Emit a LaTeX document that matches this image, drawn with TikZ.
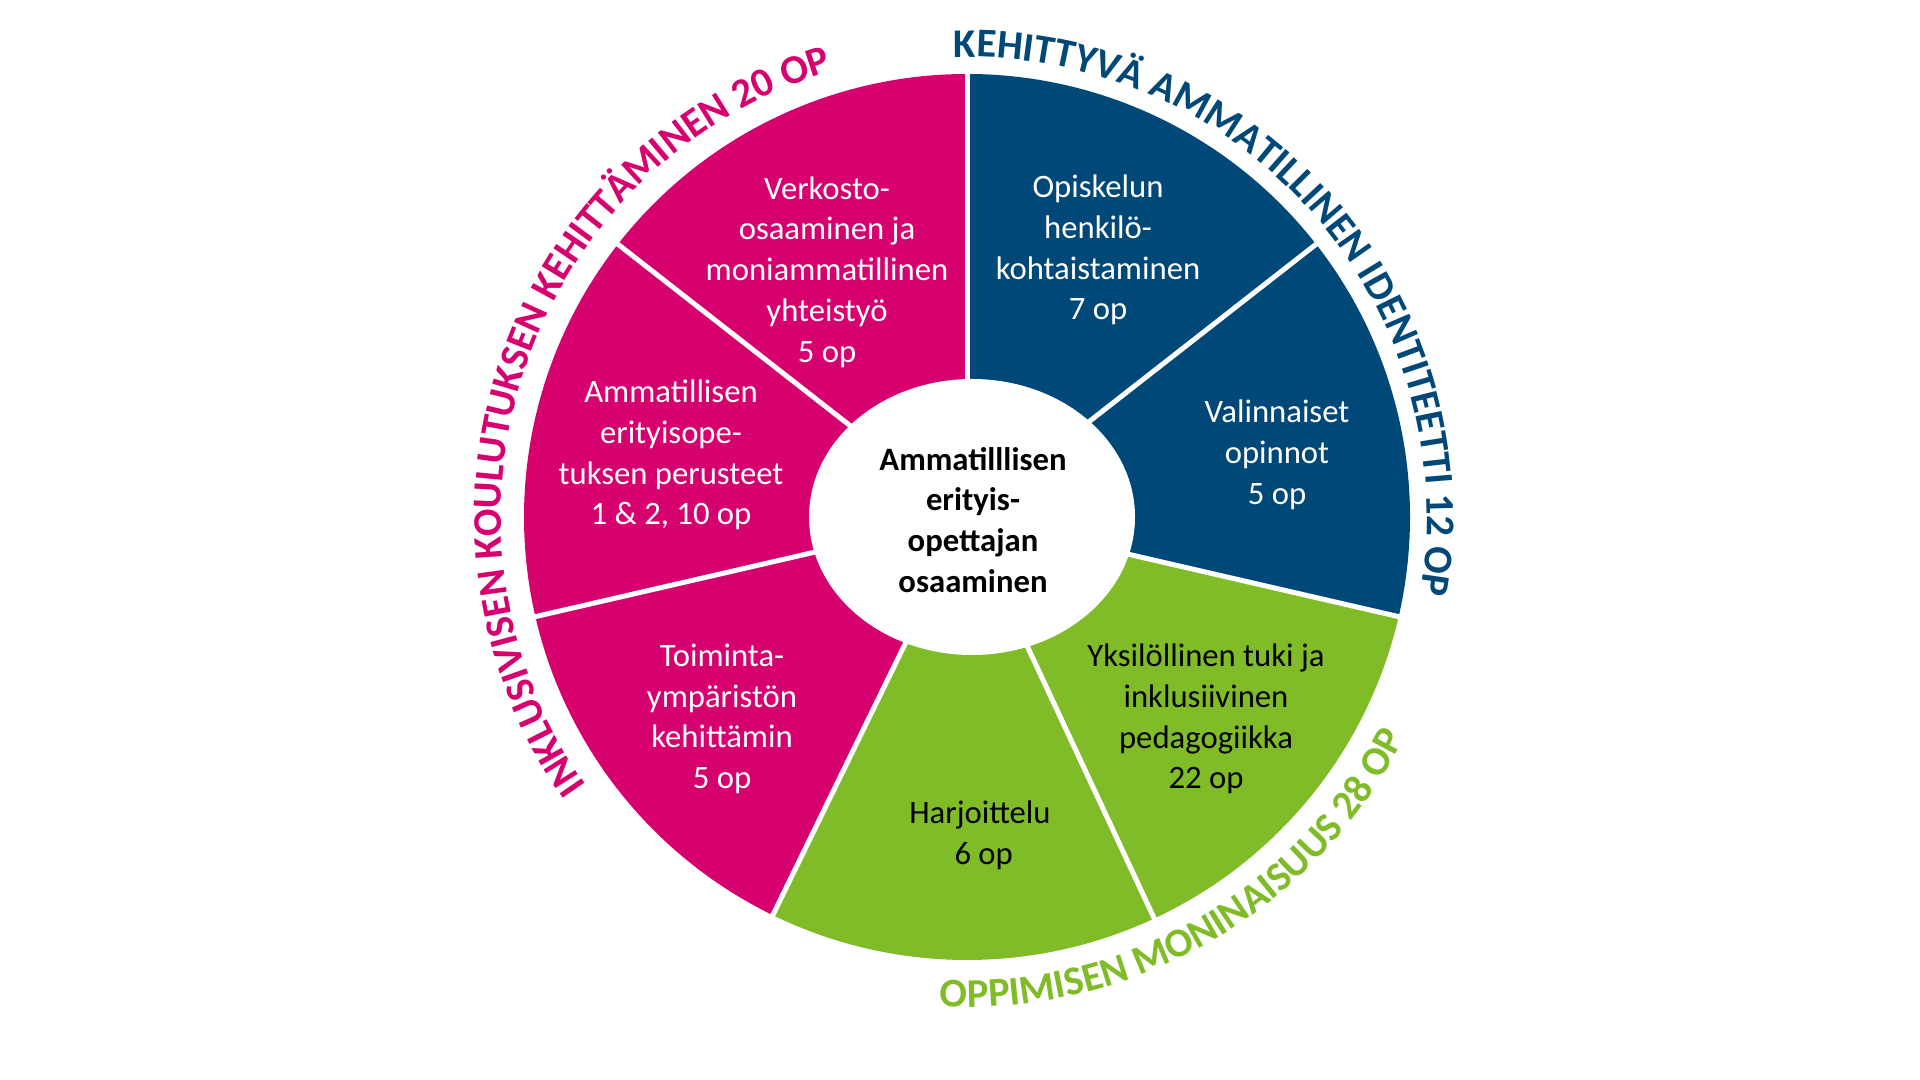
\documentclass[tikz,border=0pt]{standalone}
\usepackage{fontspec}
\setmainfont{Carlito}
\usetikzlibrary{decorations.text,shapes.geometric}
\definecolor{mag}{HTML}{D6006F}
\definecolor{navy}{HTML}{004878}
\definecolor{grn}{HTML}{80BC28}
\begin{document}
\begin{tikzpicture}[
  lbl/.style={align=center,font=\fontsize{9.3}{11.6}\selectfont},
  sep/.style={white,line width=0.05cm}]
\useasboundingbox (0,0) rectangle (19.2,10.8);
\coordinate (c) at (9.67,5.63);
\def\R{4.43}
\foreach \a/\b/\col in {90/38/navy,38/-13/navy,-13/-65/grn,-65/-116/grn,-116/-167/mag,-167/-218/mag,-218/-270/mag}{
  \fill[\col] (c) -- ++(\a:\R) arc (\a:\b:\R) -- cycle;}
\foreach \a in {90,38,-13,-65,-116,-167,-218}{
  \draw[sep] (c) -- ++(\a:\R+0.05);}
\node[ellipse,fill=white,minimum width=3.26cm,minimum height=2.76cm,inner sep=0] (e) at (9.72,5.63) {};
\node[lbl,font=\fontsize{9.3}{11.6}\selectfont\bfseries] (ctr) at (9.73,5.6) {Ammatilllisen\\erityis-\\opettajan\\osaaminen};
\node[lbl,white] (n1) at (8.27,8.08) {Verkosto-\\osaaminen ja\\moniammatillinen\\yhteistyö\\5 op};
\node[lbl,white] (n2) at (10.98,8.30) {Opiskelun\\henkilö-\\kohtaistaminen\\7 op};
\node[lbl,white] (n3) at (12.77,6.25) {Valinnaiset\\opinnot\\5 op};
\node[lbl,white] (n4) at (6.71,6.25) {Ammatillisen\\erityisope-\\tuksen perusteet\\1 \& 2, 10 op};
\node[lbl,white] (n5) at (7.22,3.61) {Toiminta-\\ympäristön\\kehittämin\\5 op};
\node[lbl] (n6) at (12.06,3.61) {Yksilöllinen tuki ja\\inklusiivinen\\pedagogiikka\\22 op};
\node[lbl] (n7) at (9.80,2.45) {Harjoittelu\\\ 6 op};
\path[postaction={decorate},decoration={text along path,text align=center,
  text={|\fontsize{11.6}{14}\selectfont\bfseries\color{mag}|INKLUSIVISEN KOULUTUKSEN KEHITTÄMINEN 20 OP}}]
  (c) ++(222:4.66) arc (222:100:4.66);
\path[postaction={decorate},decoration={text along path,text align=center,
  text={|\fontsize{11.6}{14}\selectfont\bfseries\color{navy}|KEHITTYVÄ AMMATILLINEN IDENTITEETTI 12 OP}}]
  (c) ++(97:4.60) arc (97:-15:4.60);
\path[postaction={decorate},decoration={text along path,text align=center,
  text={|\fontsize{11.6}{14}\selectfont\bfseries\color{grn}|OPPIMISEN MONINAISUUS 28 OP}}]
  (c) ++(-97:4.90) arc (-97:-23:4.90);
\end{tikzpicture}
\end{document}
